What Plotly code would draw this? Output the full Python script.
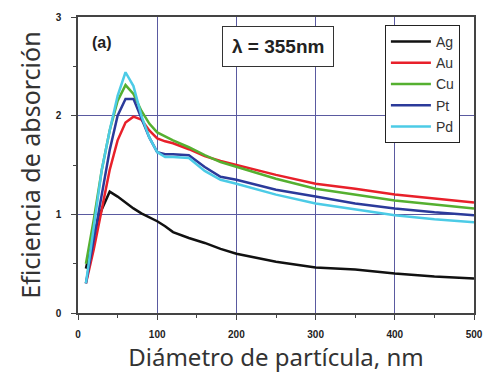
import plotly.graph_objects as go

diam = [10, 20, 30, 40, 50, 60, 70, 80, 90, 100, 110, 120, 140, 160, 180, 200, 250, 300, 350, 400, 450, 500]
ag = [0.45, 0.80, 1.05, 1.23, 1.18, 1.12, 1.06, 1.01, 0.97, 0.93, 0.88, 0.82, 0.76, 0.71, 0.65, 0.60, 0.52, 0.46, 0.44, 0.40, 0.37, 0.35]
au = [0.30, 0.65, 1.05, 1.45, 1.75, 1.93, 1.99, 1.96, 1.85, 1.77, 1.74, 1.72, 1.66, 1.59, 1.54, 1.50, 1.40, 1.31, 1.26, 1.20, 1.16, 1.12]
cu = [0.50, 0.95, 1.45, 1.85, 2.15, 2.31, 2.22, 2.05, 1.92, 1.83, 1.79, 1.75, 1.68, 1.60, 1.53, 1.48, 1.36, 1.26, 1.20, 1.14, 1.10, 1.06]
pt = [0.30, 0.75, 1.20, 1.65, 2.00, 2.17, 2.17, 1.98, 1.78, 1.63, 1.61, 1.61, 1.60, 1.48, 1.38, 1.35, 1.25, 1.18, 1.11, 1.06, 1.02, 0.99]
pd_ = [0.30, 0.85, 1.45, 1.85, 2.20, 2.44, 2.30, 2.00, 1.78, 1.63, 1.58, 1.58, 1.57, 1.44, 1.35, 1.31, 1.20, 1.11, 1.05, 0.99, 0.95, 0.92]

series = [("Ag", ag, "#111111"), ("Au", au, "#e8202a"), ("Cu", cu, "#55b030"),
          ("Pt", pt, "#2b3a9a"), ("Pd", pd_, "#4ccbe6")]

fig = go.Figure()
for name, vals, col in series:
    fig.add_trace(go.Scatter(x=diam, y=vals, mode="lines", name=name,
                             line=dict(color=col, width=2.5)))

tickfont = dict(family="Liberation Sans", size=10, color="#222222", weight="bold")
grid = "#5a5aa0"
fig.update_layout(
    width=493, height=375,
    margin=dict(l=78, r=10, t=17, b=62),
    paper_bgcolor="white", plot_bgcolor="white",
    showlegend=True,
    legend=dict(x=0.775, y=0.973, xanchor="left", yanchor="top",
                bgcolor="white", bordercolor="#222222", borderwidth=1,
                font=dict(family="Liberation Sans", size=14, color="#333333"),
                tracegroupgap=0, itemwidth=40),
    xaxis=dict(range=[0, 500], tickvals=[0, 100, 200, 300, 400, 500],
               showgrid=True, gridcolor=grid, gridwidth=1.2,
               showline=True, linecolor="#444444", linewidth=1.5, mirror=True,
               ticks="outside", ticklen=5, tickcolor="#444444",
               minor=dict(tickvals=[50, 150, 250, 350, 450], ticks="outside", ticklen=3,
                          tickcolor="#444444", showgrid=False),
               tickfont=tickfont, zeroline=False, ticklabelstandoff=6,
               title=dict(text="Diámetro de partícula, nm",
                          font=dict(family="Noto Sans", size=24, color="#333333"),
                          standoff=4)),
    yaxis=dict(range=[0, 3], tickvals=[0, 1, 2, 3],
               showgrid=True, gridcolor=grid, gridwidth=1.2,
               showline=True, linecolor="#444444", linewidth=1.5, mirror=True,
               ticks="outside", ticklen=5, tickcolor="#444444",
               minor=dict(tickvals=[0.5, 1.5, 2.5], ticks="outside", ticklen=3,
                          tickcolor="#444444", showgrid=False),
               tickfont=tickfont, zeroline=False, ticklabelstandoff=8,
               title=dict(text="Eficiencia de absorción",
                          font=dict(family="Noto Sans", size=25, color="#333333"),
                          standoff=8)),
)

fig.add_annotation(xref="paper", yref="paper", x=0.03, y=0.915, xanchor="left", yanchor="middle",
                   text="<b>(a)</b>", showarrow=False,
                   font=dict(family="Liberation Sans", size=16, color="#222222"))
fig.add_annotation(xref="paper", yref="paper", x=0.504, y=0.902, xanchor="center", yanchor="middle",
                   text="<b>λ = 355nm</b>", showarrow=False,
                   font=dict(family="Liberation Sans", size=19, color="#222222"),
                   bordercolor="#333333", borderwidth=1, borderpad=9, bgcolor="white")

fig.write_html("out.html")
